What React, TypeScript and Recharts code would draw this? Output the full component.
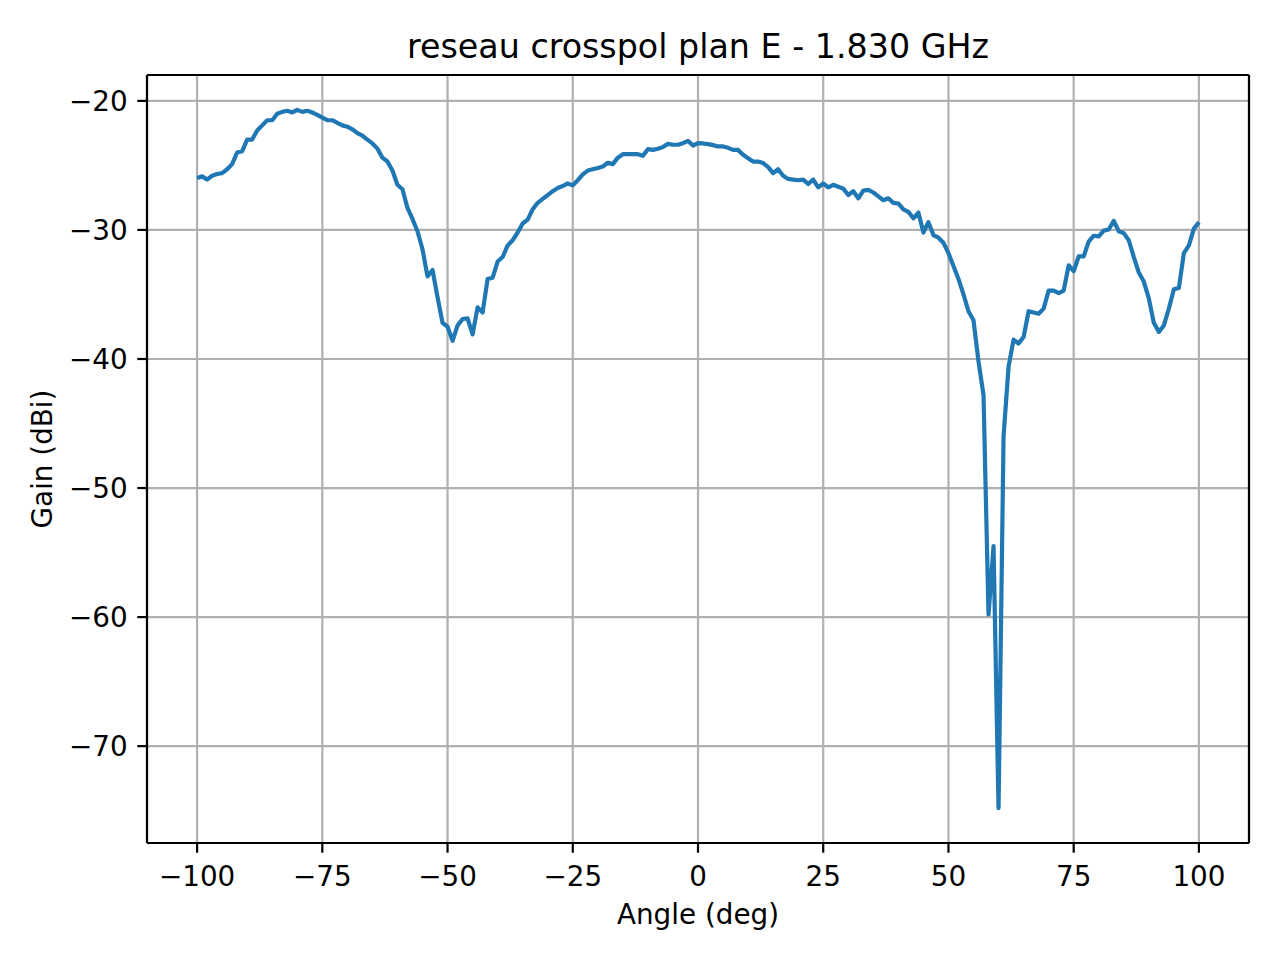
import { LineChart, Line, XAxis, YAxis, CartesianGrid, ReferenceLine } from 'recharts'

// angles run from -100 to 100 deg, one sample per degree
const ANGLE_START = -100
const ANGLE_STEP = 1

// gain (dBi)
const gainMinus100ToMinus51 = [
    -25.97, -25.85, -26.1, -25.8, -25.67, -25.6, -25.3, -24.9, -24.0, -23.9,
    -23.0, -23.0, -22.3, -21.9, -21.5, -21.5, -21.0, -20.85, -20.77, -20.9,
    -20.7, -20.85, -20.77, -20.9, -21.08, -21.3, -21.5, -21.5, -21.7, -21.9,
    -22.0, -22.2, -22.5, -22.7, -23.0, -23.3, -23.7, -24.4, -24.7, -25.4,
    -26.5, -26.85, -28.3, -29.15, -30.1, -31.5, -33.6, -33.1, -35.2, -37.2,
]
const gainMinus50ToMinus1 = [
    -37.5, -38.6, -37.4, -36.9, -36.85, -38.1, -36.0, -36.4, -33.8, -33.7,
    -32.45, -32.1, -31.2, -30.8, -30.2, -29.5, -29.2, -28.4, -27.9, -27.6,
    -27.3, -27.0, -26.75, -26.6, -26.4, -26.55, -26.15, -25.7, -25.4, -25.3,
    -25.2, -25.08, -24.8, -24.9, -24.4, -24.13, -24.13, -24.13, -24.13, -24.26,
    -23.74, -23.8, -23.71, -23.58, -23.33, -23.4, -23.4, -23.28, -23.1, -23.46,
]
const gain0To49 = [
    -23.28, -23.3, -23.35, -23.43, -23.53, -23.53, -23.64, -23.8, -23.8, -24.18,
    -24.44, -24.7, -24.7, -24.82, -25.13, -25.6, -25.3, -25.8, -26.05, -26.1,
    -26.15, -26.1, -26.44, -26.1, -26.7, -26.4, -26.7, -26.5, -26.65, -26.8,
    -27.3, -27.0, -27.55, -26.95, -26.9, -27.1, -27.4, -27.7, -27.55, -27.9,
    -27.95, -28.4, -28.6, -29.1, -28.65, -30.2, -29.4, -30.4, -30.6, -31.0,
]
const gain50To100 = [
    -31.8, -32.8, -33.8, -35.0, -36.3, -37.0, -40.2, -42.8, -59.8, -54.5,
    -74.8, -46.0, -40.6, -38.5, -38.8, -38.3, -36.3, -36.4, -36.5, -36.1,
    -34.7, -34.7, -34.9, -34.7, -32.75, -33.2, -32.05, -32.05, -30.9, -30.45,
    -30.5, -30.05, -29.97, -29.3, -30.1, -30.25, -30.8, -32.1, -33.3, -34.0,
    -35.3, -37.2, -37.9, -37.4, -36.1, -34.6, -34.5, -31.8, -31.2, -29.9,
    -29.4,
]

const xTicks = [-100, -75, -50, -25, 0, 25, 50, 75, 100]
const yTicks = [-70, -60, -50, -40, -30, -20]

const gain = [...gainMinus100ToMinus51, ...gainMinus50ToMinus1, ...gain0To49, ...gain50To100]
const data = gain.map((g, i) => ({ angle: ANGLE_START + i * ANGLE_STEP, gain: g }))

// matplotlib-style 5% margins around the data
const lo = Math.min(...gain)
const hi = Math.max(...gain)
const yPad = (hi - lo) * 0.05
const yDomain: [number, number] = [lo - yPad, hi + yPad]
const xDomain: [number, number] = [-110, 110]

const FONT = 'DejaVu Sans'
const fmt = (v: number) => (v < 0 ? '\u2212' + Math.abs(v) : String(v))

export default function App() {
    return (
        <div style={{ position: 'absolute', left: 0, top: 0, width: 1280, height: 960, background: '#fff' }}>
            <LineChart
                width={1280}
                height={960}
                data={data}
                margin={{ top: 75, right: 31, bottom: 57, left: 47 }}
            >
                <CartesianGrid stroke="#b0b0b0" strokeWidth={2.2} />
                <XAxis
                    type="number"
                    dataKey="angle"
                    domain={xDomain}
                    ticks={xTicks}
                    allowDataOverflow
                    height={60}
                    tickSize={9.7}
                    tickMargin={14}
                    tickFormatter={fmt}
                    axisLine={{ stroke: '#000', strokeWidth: 2.2 }}
                    tickLine={{ stroke: '#000', strokeWidth: 2.2 }}
                    tick={{ fill: '#000', fontSize: 27.8, fontFamily: FONT }}
                />
                <YAxis
                    type="number"
                    domain={yDomain}
                    ticks={yTicks}
                    allowDataOverflow
                    width={100}
                    tickSize={9.7}
                    tickMargin={9.7}
                    tickFormatter={fmt}
                    axisLine={{ stroke: '#000', strokeWidth: 2.2 }}
                    tickLine={{ stroke: '#000', strokeWidth: 2.2 }}
                    tick={{ fill: '#000', fontSize: 27.8, fontFamily: FONT }}
                />
                <ReferenceLine y={yDomain[1]} stroke="#000" strokeWidth={2.2} />
                <ReferenceLine x={xDomain[1]} stroke="#000" strokeWidth={2.2} />
                <Line
                    type="linear"
                    dataKey="gain"
                    stroke="#1f77b4"
                    strokeWidth={4.2}
                    strokeLinejoin="round"
                    dot={false}
                    isAnimationActive={false}
                />
            </LineChart>
            <svg
                width={1280}
                height={960}
                style={{ position: 'absolute', left: 0, top: 0, pointerEvents: 'none' }}
            >
                <text x={698} y={58} textAnchor="middle" fontSize={33.3} fontFamily={FONT} fill="#000">
                    reseau crosspol plan E - 1.830 GHz
                </text>
                <text x={698} y={924} textAnchor="middle" fontSize={27.8} fontFamily={FONT} fill="#000">
                    Angle (deg)
                </text>
                <text
                    x={52}
                    y={459}
                    textAnchor="middle"
                    fontSize={27.8}
                    fontFamily={FONT}
                    fill="#000"
                    transform="rotate(-90, 52, 459)"
                >
                    Gain (dBi)
                </text>
            </svg>
        </div>
    )
}
